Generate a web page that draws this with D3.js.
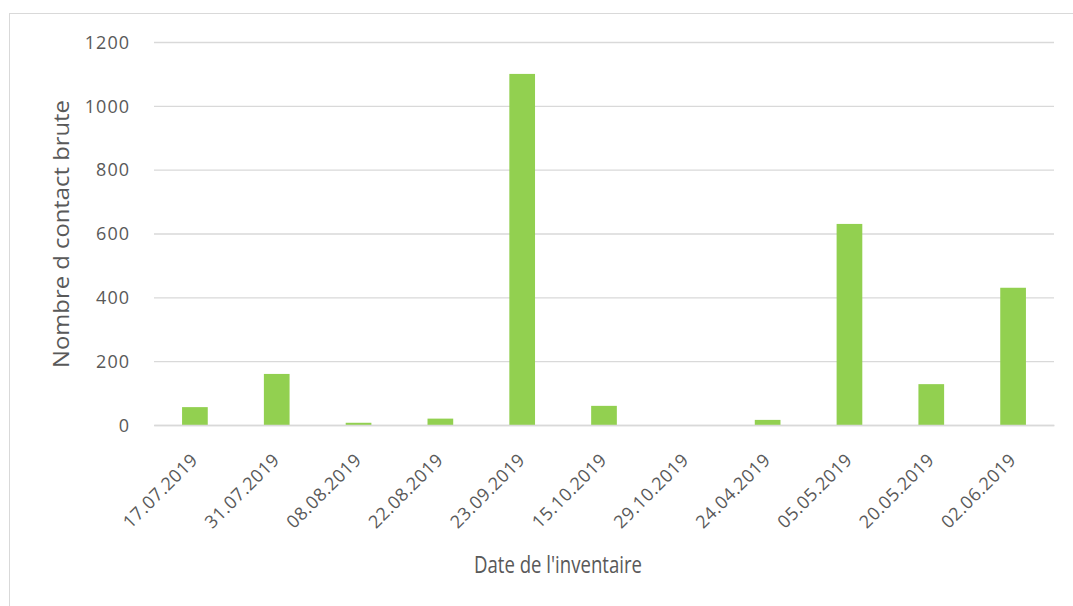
<!DOCTYPE html>
<html>
<head>
<meta charset="utf-8">
<script src="https://cdn.jsdelivr.net/npm/d3@7"></script>
<style>
  body { margin: 0; background: #fff; }
  text { font-family: "Open Sans", "Noto Sans", sans-serif; fill: #595959; }
</style>
</head>
<body>
<div id="chart"></div>
<script>
// dates of each inventory
const dates = ['17.07.2019', '31.07.2019', '08.08.2019', '22.08.2019', '23.09.2019',
   '15.10.2019', '29.10.2019', '24.04.2019', '05.05.2019', '20.05.2019', '02.06.2019'];
// raw contact counts
const contacts = [56, 160, 7, 20, 1100, 60, 0, 16, 630, 128, 430];
const yTicks = [0, 200, 400, 600, 800, 1000, 1200];

const width = 1073, height = 606;
const margin = { top: 42, right: 19, bottom: 181, left: 154 };
const w = width - margin.left - margin.right;
const h = height - margin.top - margin.bottom;

const svg = d3.select('#chart').append('svg')
   .attr('width', width)
   .attr('height', height);

// outer frame
svg.append('rect')
   .attr('x', 9.5).attr('y', 13.5)
   .attr('width', width).attr('height', height)
   .attr('fill', 'none')
   .attr('stroke', '#d9d9d9');

const chart = svg.append('g')
   .attr('transform', `translate(${margin.left},${margin.top})`);

const xScale = d3.scaleBand()
   .domain(dates)
   .range([0, w])
   .paddingInner(0.686)
   .paddingOuter(0.343);

const yScale = d3.scaleLinear()
   .domain([0, 1200])
   .range([h, 0]);

// gridlines
const yGrid = d3.axisLeft(yScale)
   .tickValues(yTicks)
   .tickSize(-w)
   .tickFormat('');
chart.append('g')
   .call(yGrid)
   .call(g => g.select('.domain').remove())
   .call(g => g.selectAll('line').attr('stroke', '#d9d9d9').attr('stroke-width', 1.3));

// y tick labels
const yAxis = d3.axisLeft(yScale)
   .tickValues(yTicks)
   .tickFormat(d3.format('d'))
   .tickSize(0)
   .tickPadding(24);
chart.append('g')
   .call(yAxis)
   .call(g => g.select('.domain').remove())
   .call(g => g.selectAll('text')
      .style('font-size', '18px')
      .style('letter-spacing', '1px')
      .attr('dy', '0.35em'));

// bars
chart.selectAll('.bar')
   .data(dates)
   .enter()
   .append('rect')
   .classed('bar', true)
   .attr('x', d => xScale(d))
   .attr('y', (d, i) => yScale(contacts[i]))
   .attr('width', xScale.bandwidth())
   .attr('height', (d, i) => h - yScale(contacts[i]))
   .attr('fill', '#92d050');

// x axis
const xAxis = d3.axisBottom(xScale).tickSize(0).tickPadding(0);
chart.append('g')
   .attr('transform', `translate(0,${h})`)
   .call(xAxis)
   .call(g => g.select('.domain').attr('stroke', '#d9d9d9').attr('stroke-width', 1.3))
   .call(g => g.selectAll('text')
      .style('font-size', '18px')
      .style('letter-spacing', '0.5px')
      .style('text-anchor', 'end')
      .attr('dy', 0)
      .attr('transform', 'translate(4,36) rotate(-45)'));

// axis titles
svg.append('text')
   .attr('x', 558)
   .attr('y', 573)
   .attr('textLength', 168)
   .attr('lengthAdjust', 'spacingAndGlyphs')
   .style('font-size', '24px')
   .style('text-anchor', 'middle')
   .text("Date de l'inventaire");

svg.append('text')
   .attr('transform', `translate(69, 234) rotate(-90)`)
   .attr('textLength', 268)
   .attr('lengthAdjust', 'spacingAndGlyphs')
   .style('font-size', '22px')
   .style('text-anchor', 'middle')
   .text('Nombre d contact brute');
</script>
</body>
</html>
